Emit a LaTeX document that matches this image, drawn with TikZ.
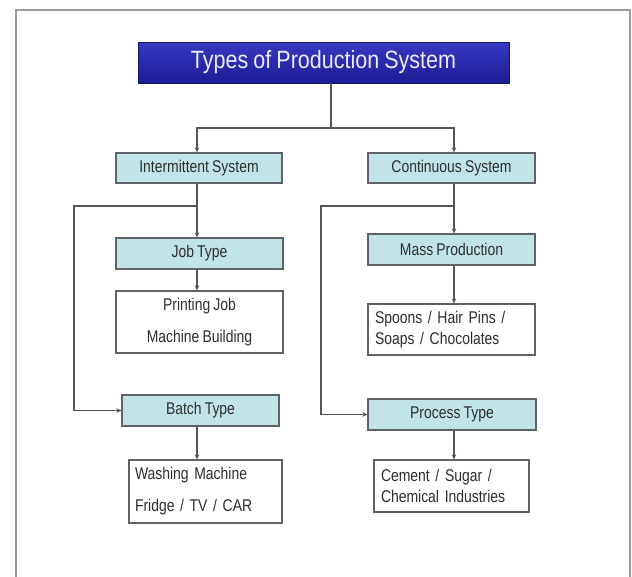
\documentclass[tikz,border=0pt]{standalone}
\usepackage{fontspec}
\usetikzlibrary{arrows.meta}
\newfontfamily\titlefont[FakeStretch=0.86,WordSpace=0.86]{Liberation Sans}
\newfontfamily\boxfont[FakeStretch=0.82,WordSpace=0.8]{Liberation Sans}
\definecolor{frameGray}{HTML}{9A9A9A}
\definecolor{lineGray}{HTML}{555555}
\definecolor{boxBlue}{HTML}{C2E4E8}
\definecolor{boxEdge}{HTML}{5E6466}
\definecolor{titleTop}{HTML}{3838C4}
\definecolor{titleBot}{HTML}{1C1C94}
\definecolor{titleText}{HTML}{ECECFF}
\definecolor{txt}{HTML}{2E2E2E}
\tikzset{
  titlebox/.style={draw=titleBot!70!black, line width=0.8pt, top color=titleTop, bottom color=titleBot,
    minimum width=371pt, minimum height=41pt, inner sep=0pt,
    text=titleText, font=\titlefont\fontsize{25}{28}\selectfont},
  bluebox/.style={draw=boxEdge, line width=1.2pt, fill=boxBlue, inner sep=0pt,
    text=txt, font=\boxfont\fontsize{17}{21}\selectfont},
  whitebox/.style={draw=boxEdge, line width=1.2pt, fill=white, inner sep=0pt,
    text=txt, font=\boxfont\fontsize{17}{21}\selectfont},
  leftbox/.style={whitebox, align=left, inner xsep=7pt, anchor=center},
  conn/.style={draw=lineGray, line width=1.2pt},
  arr/.style={conn, -{Stealth[length=5pt,width=4.5pt]}}
}
\begin{document}
\begin{tikzpicture}[x=1pt,y=-1pt]
\useasboundingbox (0,0) rectangle (632,576);
\fill[white] (0,0) rectangle (632,576);
% outer frame
\draw[frameGray, line width=1.6pt] (16,580) -- (16,10) -- (630,10) -- (630,580);

% helper coordinates
\coordinate (split) at (331,128);
\coordinate (lx) at (197,0);
\coordinate (rx) at (454,0);
\coordinate (lout) at (74,206);
\coordinate (rout) at (321,206);

% nodes
\node[titlebox] (title) at (323.5,62.5) {Types of Production System};

\node[bluebox, minimum width=166pt, minimum height=30pt] (inter) at (199,168) {Intermittent System};
\node[bluebox, minimum width=167pt, minimum height=30pt] (cont) at (451.5,168) {Continuous System};

\node[bluebox, minimum width=167pt, minimum height=31pt] (job) at (199.5,253.5) {Job Type};
\node[whitebox, minimum width=167pt, minimum height=62pt, align=center] (print) at (199.5,322)
  {Printing Job\\[11pt]Machine Building};

\node[bluebox, minimum width=167pt, minimum height=31pt] (mass) at (451.5,249.5) {Mass Production};
\node[leftbox, text width=153pt, minimum height=51pt] (spoons) at (451.5,329.5)
  {Spoons / Hair Pins /\\Soaps / Chocolates};

\node[bluebox, minimum width=157pt, minimum height=31pt] (batch) at (200.5,410.5) {Batch Type};
\node[leftbox, text width=141pt, minimum height=63pt, inner xsep=6pt] (wash) at (205.5,491.5)
  {Washing Machine\\[11pt]Fridge / TV / CAR};

\node[bluebox, minimum width=168pt, minimum height=31pt] (process) at (452,414.5) {Process Type};
\node[leftbox, text width=141pt, minimum height=52pt] (cement) at (451.5,486)
  {Cement / Sugar /\\Chemical Industries};

% connectors
\draw[conn] (title.south -| split) -- (split);
\draw[arr] (split) -| (inter.north -| lx);
\draw[arr] (split) -| (cont.north -| rx);

\draw[arr] (inter.south -| lx) -- (job.north -| lx);
\draw[arr] (job.south -| lx) -- (print.north -| lx);
\draw[arr] (lout -| lx) -- (lout) |- (batch.west);
\draw[arr] (batch.south -| lx) -- (wash.north -| lx);

\draw[arr] (cont.south -| rx) -- (mass.north -| rx);
\draw[arr] (mass.south -| rx) -- (spoons.north -| rx);
\draw[arr] (rout -| rx) -- (rout) |- (process.west);
\draw[arr] (process.south -| rx) -- (cement.north -| rx);
\end{tikzpicture}
\end{document}
